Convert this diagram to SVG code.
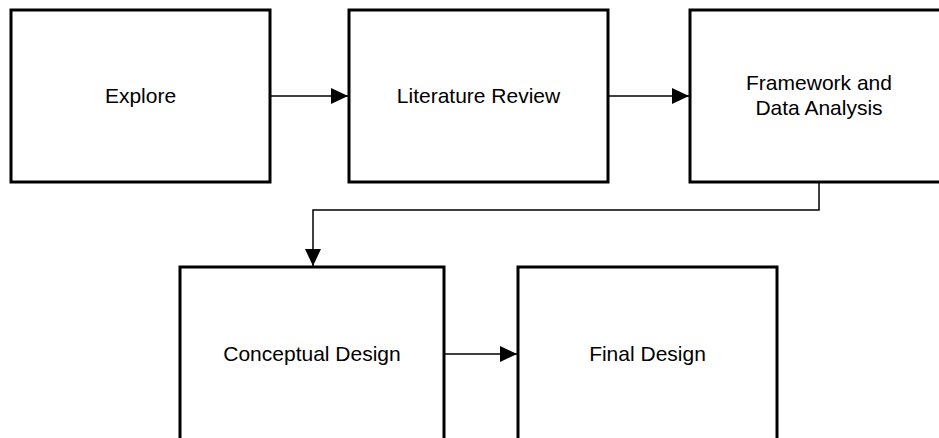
<svg xmlns="http://www.w3.org/2000/svg" width="939" height="438" viewBox="0 0 939 438">
  <style>
    .box { fill: #ffffff; stroke: #000000; stroke-width: 3; stroke-linejoin: miter; }
    .lbl { font-family: "Liberation Sans", Arial, sans-serif; font-size: 21px; fill: #000000; text-anchor: middle; }
    .conn { fill: none; stroke: #000000; stroke-width: 1.5; marker-end: url(#arrow); }
  </style>
  <defs>
    <marker id="arrow" markerUnits="userSpaceOnUse" markerWidth="17" markerHeight="16" refX="17" refY="8" orient="auto">
      <path d="M0,0 L17,8 L0,16 Z" fill="#000000"/>
    </marker>
  </defs>
  <rect width="939" height="438" fill="#ffffff"/>

  <g id="connectors">
    <path class="conn" d="M270,96 L348,96"/>
    <path class="conn" d="M608,96 L689,96"/>
    <path class="conn" d="M819,182 L819,210 L313,210 L313,266"/>
    <path class="conn" d="M444,354 L517,354"/>
  </g>

  <g id="explore">
    <rect class="box" x="11" y="10" width="259" height="172"/>
    <text class="lbl" x="140.5" y="103">Explore</text>
  </g>
  <g id="literature-review">
    <rect class="box" x="349" y="10" width="259" height="172"/>
    <text class="lbl" x="478.5" y="103">Literature Review</text>
  </g>
  <g id="framework-data-analysis">
    <rect class="box" x="690" y="10" width="259" height="172"/>
    <text class="lbl" x="819" y="90">Framework and</text>
    <text class="lbl" x="819" y="115">Data Analysis</text>
  </g>
  <g id="conceptual-design">
    <rect class="box" x="180" y="267" width="264" height="190"/>
    <text class="lbl" x="312" y="361">Conceptual Design</text>
  </g>
  <g id="final-design">
    <rect class="box" x="518" y="267" width="259" height="190"/>
    <text class="lbl" x="647.5" y="361">Final Design</text>
  </g>
</svg>
